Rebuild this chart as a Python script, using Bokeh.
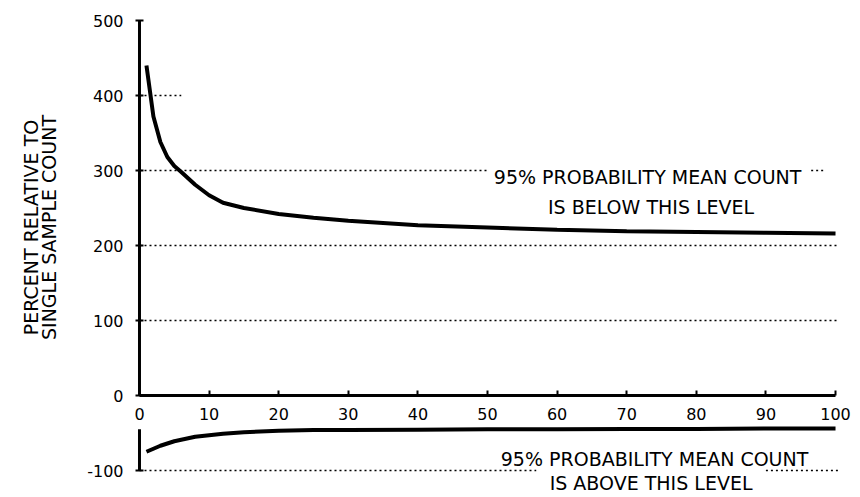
import math
from bokeh.plotting import figure
from bokeh.models import Range1d, FixedTicker, Label
from bokeh.embed import file_html
from bokeh.resources import INLINE

# ---- data ----
sample_n = [1, 2, 3, 4, 5, 6, 8, 10, 12, 15, 20, 25, 30, 40, 50, 60, 70, 80, 90, 100]
upper_pct = [440, 372, 338, 318, 306, 298, 281, 267, 257, 250, 242, 237, 233, 227, 224, 221, 219, 218, 217, 216]
lower_pct = [-75, -71, -67, -64, -61, -59, -55, -53, -51, -49, -47, -46, -46, -45.5, -45, -45, -44.5, -44.5, -44, -44]

y_ticks = [-100, 0, 100, 200, 300, 400, 500]
x_ticks = [0, 10, 20, 30, 40, 50, 60, 70, 80, 90, 100]

# dotted reference levels (level, from n, to n)
ref_level = [400, 300, 300, 200, 100, -100, -100]
ref_from = [0, 0, 96.5, 0, 0, 0, 90]
ref_to = [6, 50, 98.5, 100.5, 100.5, 57, 100.5]

upper_note = ["95% PROBABILITY MEAN COUNT", "IS BELOW THIS LEVEL"]
lower_note = ["95% PROBABILITY MEAN COUNT", "IS ABOVE THIS LEVEL"]
y_title = ["PERCENT RELATIVE TO", "SINGLE SAMPLE COUNT"]

FONT = "DejaVu Sans"

# frame covers the whole canvas; axes are placed inside at fixed locations
p = figure(width=852, height=495, output_backend="svg", toolbar_location=None,
           x_range=Range1d(-19.97, 102.44), y_range=Range1d(-133.33, 526.67),
           min_border_left=0, min_border_right=0,
           min_border_top=0, min_border_bottom=0)
p.outline_line_color = None
p.xgrid.visible = False
p.ygrid.visible = False
p.background_fill_color = "white"
p.border_fill_color = "white"

# y axis at n = 0 (line drawn separately, broken around x labels)
ya = p.yaxis[0]
ya.fixed_location = 0
ya.bounds = (-100, 500)
ya.ticker = FixedTicker(ticks=y_ticks)
ya.major_label_overrides = {-100: "-100"}
ya.axis_line_color = None
ya.major_tick_in = 4
ya.major_tick_out = 4
ya.major_tick_line_width = 2
ya.major_tick_line_color = "black"
ya.minor_tick_line_color = None
ya.major_label_text_font = FONT
ya.major_label_text_font_size = "16px"
ya.major_label_text_color = "black"
ya.major_label_standoff = 12

# x axis at level 0
xa = p.xaxis[0]
xa.fixed_location = 0
xa.bounds = (0, 100)
xa.ticker = FixedTicker(ticks=x_ticks)
xa.axis_line_width = 3
xa.axis_line_color = "black"
xa.major_tick_in = 5
xa.major_tick_out = 0
xa.major_tick_line_width = 2
xa.major_tick_line_color = "black"
xa.minor_tick_line_color = None
xa.major_label_text_font = FONT
xa.major_label_text_font_size = "16px"
xa.major_label_text_color = "black"
xa.major_label_standoff = 12

# broken y-axis line
p.segment(x0=[0, 0], y0=[0, -100], x1=[0, 0], y1=[y_ticks[-1], -45],
          line_color="black", line_width=3)

# dotted reference lines
p.segment(x0=ref_from, y0=ref_level, x1=ref_to, y1=ref_level,
          line_color="black", line_width=1.3, line_dash="2 3")

# curves
p.line(sample_n, upper_pct, line_color="black", line_width=4)
p.line(sample_n, lower_pct, line_color="black", line_width=4)

def note(txt, x, y, angle=0.0, size="19px"):
    p.add_layout(Label(x=x, y=y, text=txt, text_font=FONT, text_font_size=size,
                       text_align="center", text_baseline="middle", text_color="black",
                       angle=angle))

note(upper_note[0], 73, 292)
note(upper_note[1], 73.5, 252)
note(lower_note[0], 74, -84)
note(lower_note[1], 73.5, -117)

note(y_title[0], -15.6, 224, angle=math.pi / 2, size="19px")
note(y_title[1], -13.0, 224, angle=math.pi / 2, size="19px")

open("out.html", "w").write(file_html(p, INLINE))
